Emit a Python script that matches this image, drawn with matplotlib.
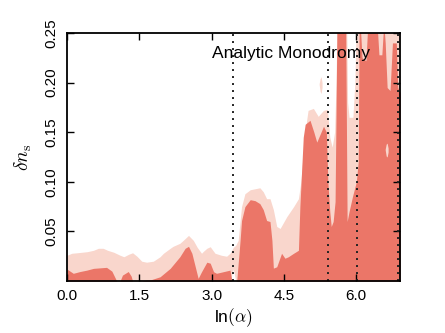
import matplotlib
matplotlib.use("Agg")
import matplotlib.pyplot as plt
import numpy as np

plt.rcParams['font.family'] = ['Liberation Sans', 'DejaVu Sans']
plt.rcParams['mathtext.fontset'] = 'cm'

# outer (light) contour: upper edge vs ln(alpha)
light_x = [0.00, 0.10, 0.21, 0.42, 0.55, 0.65, 0.75, 0.84, 0.97, 1.10, 1.18, 1.28, 1.36,
           1.45, 1.55, 1.65, 1.79, 1.93, 2.00, 2.14, 2.20, 2.34, 2.41, 2.52, 2.62, 2.70,
           2.79, 2.83, 2.90, 2.97, 3.07, 3.20, 3.31, 3.38, 3.45, 3.50, 3.55, 3.62, 3.69,
           3.80, 3.90, 4.00, 4.07, 4.14, 4.21, 4.28, 4.35, 4.42, 4.56, 4.70, 4.80, 4.85,
           4.92, 4.97, 5.00, 5.11, 5.21, 5.32, 5.40, 5.45, 5.50, 5.55, 5.58, 5.60, 5.80,
           5.82, 5.85, 5.93, 5.97, 6.00, 6.91]
light_hi = [0.026, 0.028, 0.0285, 0.0296, 0.031, 0.033, 0.033, 0.031, 0.029, 0.026, 0.0245,
            0.027, 0.0285, 0.025, 0.020, 0.019, 0.020, 0.0245, 0.028, 0.033, 0.035, 0.038,
            0.041, 0.046, 0.041, 0.034, 0.028, 0.030, 0.033, 0.0346, 0.028, 0.026, 0.025,
            0.028, 0.034, 0.036, 0.041, 0.075, 0.088, 0.092, 0.093, 0.094, 0.090, 0.083,
            0.083, 0.072, 0.055, 0.053, 0.065, 0.075, 0.083, 0.100, 0.140, 0.162, 0.172,
            0.174, 0.166, 0.172, 0.173, 0.145, 0.135, 0.150, 0.200, 0.260, 0.260, 0.180,
            0.165, 0.165, 0.200, 0.260, 0.260]
light_lo = [0.0] * len(light_x)
light_lo[light_x.index(3.45)] = 0.012

# inner (dark) contour: upper edge vs ln(alpha)
dark_x = [0.00, 0.13, 0.27, 0.41, 0.55, 0.82, 0.93, 0.98, 1.03, 1.10, 1.15, 1.27, 1.33,
          1.36, 1.55, 1.65, 1.72, 1.93, 2.14, 2.34, 2.45, 2.52, 2.59, 2.66, 2.72, 2.79,
          2.90, 2.97, 3.04, 3.10, 3.38, 3.42, 3.52, 3.59, 3.62, 3.69, 3.80, 3.90, 4.00,
          4.07, 4.14, 4.21, 4.25, 4.28, 4.35, 4.45, 4.52, 4.59, 4.70, 4.80, 4.83, 4.90,
          4.94, 5.04, 5.12, 5.18, 5.25, 5.32, 5.38, 5.41, 5.45, 5.48, 5.52, 5.56, 5.60,
          5.78, 5.81, 5.85, 5.92, 6.00, 6.04, 6.06, 6.08, 6.12, 6.20, 6.24, 6.43, 6.47,
          6.53, 6.57, 6.60, 6.64, 6.70, 6.75, 6.83, 6.86, 6.91]
dark_hi = [0.012, 0.0078, 0.0096, 0.011, 0.0128, 0.0138, 0.010, 0.005, 0.0, 0.0, 0.006,
           0.0096, 0.005, 0.0, 0.0, 0.001, 0.001, 0.0043, 0.0128, 0.0245, 0.033, 0.035,
           0.028, 0.0144, 0.0027, 0.0094, 0.019, 0.018, 0.0094, 0.0078, 0.011, 0.0, 0.0,
           0.041, 0.061, 0.075, 0.082, 0.081, 0.078, 0.072, 0.061, 0.060, 0.041, 0.013,
           0.0144, 0.028, 0.023, 0.0245, 0.028, 0.031, 0.075, 0.145, 0.158, 0.162, 0.150,
           0.140, 0.148, 0.156, 0.150, 0.100, 0.070, 0.055, 0.060, 0.080, 0.260, 0.260,
           0.060, 0.070, 0.085, 0.100, 0.120, 0.260, 0.260, 0.225, 0.222, 0.260, 0.260,
           0.228, 0.228, 0.260, 0.240, 0.195, 0.192, 0.240, 0.240, 0.195, 0.190]

# small light islands
isl1_x = [5.23, 5.25, 5.27, 5.29]
isl1_lo = [0.198, 0.191, 0.189, 0.195]
isl1_hi = [0.199, 0.204, 0.206, 0.200]
isl2_x = [6.60, 6.62, 6.64, 6.66]
isl2_lo = [0.132, 0.126, 0.125, 0.130]
isl2_hi = [0.133, 0.138, 0.139, 0.134]

# vertical reference lines
vlines = [3.45, 5.42, 6.02, 6.87]

light_c = '#F9D6CC'
dark_c = '#EB7668'

fig = plt.figure(figsize=(4.45, 3.33), dpi=100)
ax = fig.add_axes([0.1506, 0.156, 0.7484, 0.745])

ax.fill_between(light_x, light_lo, light_hi, color=light_c, lw=0)
ax.fill_between(dark_x, 0, dark_hi, color=dark_c, lw=0)
ax.fill_between(isl1_x, isl1_lo, isl1_hi, color=light_c, lw=0)
ax.fill_between(isl2_x, isl2_lo, isl2_hi, color=light_c, lw=0)

for v in vlines:
    ax.axvline(v, color='#222222', lw=1.4, ls=(0, (1, 2.6)))

ax.text(3.0, 0.225, 'Analytic Monodromy', fontsize=12.5)

ax.set_xlim(0, np.log(1000))
ax.set_ylim(0, 0.25)
ax.set_xticks([0.0, 1.5, 3.0, 4.5, 6.0])
ax.set_xticklabels(['0.0', '1.5', '3.0', '4.5', '6.0'])
ax.set_yticks([0.05, 0.10, 0.15, 0.20, 0.25])
ax.set_yticklabels(['0.05', '0.10', '0.15', '0.20', '0.25'], rotation=90, va='center')
ax.tick_params(direction='in', top=True, right=True, length=5, width=1, labelsize=11, pad=6)
for s in ax.spines.values():
    s.set_linewidth(1.3)

ax.set_xlabel(r'ln$(\alpha)$', fontsize=12.5, labelpad=2)
ax.set_ylabel(r'$\delta n_{\rm s}$', fontsize=14, labelpad=8)

fig.savefig('out.png', dpi=100)
